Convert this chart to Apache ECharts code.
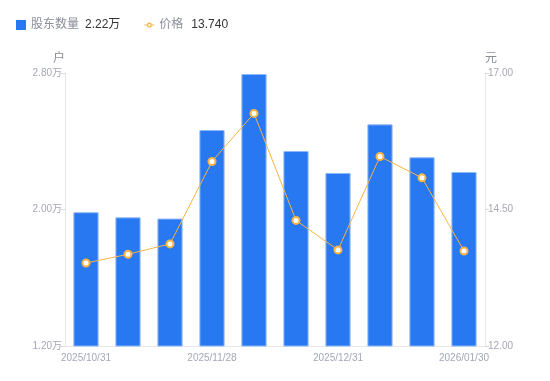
<!DOCTYPE html>
<html>
<head>
<meta charset="utf-8">
<script src="https://cdn.jsdelivr.net/npm/echarts@6/dist/echarts.min.js"></script>
<style>
html,body{margin:0;padding:0;background:#fff;}
#chart{width:550px;height:381px;}
</style>
</head>
<body>
<div id="chart"></div>
<script>
var categories = ['2025/10/31','2025/11/10','2025/11/20','2025/11/28','2025/12/10','2025/12/19','2025/12/31','2026/01/09','2026/01/20','2026/01/30'];
var holders = [19840, 19540, 19470, 24660, 27940, 23430, 22140, 24990, 23060, 22200];
var prices = [13.52, 13.68, 13.87, 15.38, 16.26, 14.30, 13.76, 15.47, 15.08, 13.74];
var leftTicks = [12000, 20000, 28000];
var rightTicks = [12, 14.5, 17];

var chart = echarts.init(document.getElementById('chart'), null, {renderer:'canvas'});
var axisGray = '#a4a7b5';
var lineColor = '#f9b444';
var font = 'Arial, "Liberation Sans", "Noto Sans CJK SC", sans-serif';
var lastH = (holders[holders.length-1]/10000).toFixed(2) + '万';
var lastP = prices[prices.length-1].toFixed(3);
var lineIcon = 'path://M0 4H5V6H0Z M15 4H20V6H15Z M5 5A5 5 0 1 1 15 5A5 5 0 1 1 5 5Z M7.6 5A2.4 2.4 0 1 0 12.4 5A2.4 2.4 0 1 0 7.6 5Z';

chart.setOption({
  animation:false,
  textStyle:{fontFamily:font},
  legend:{
    left:11, top:14, itemWidth:10, itemHeight:10, itemGap:24,
    data:[
      {name:'股东数量', icon:'rect', itemStyle:{color:'#2878f2', borderWidth:0}},
      {name:'价格', icon:lineIcon, itemStyle:{color:lineColor, borderWidth:0}}
    ],
    formatter:function(n){
      return n === '股东数量' ? '{n|股东数量}{v|' + lastH + '}' : '{n|价格}{v2|' + lastP + '}';
    },
    textStyle:{
      fontFamily:font,
      rich:{
        n:{fontSize:12, color:'#8a8d99', fontFamily:font},
        v:{fontSize:12, color:'#333333', padding:[0,0,0,6], fontFamily:font},
        v2:{fontSize:12, color:'#333333', padding:[0,0,0,8], fontFamily:font}
      }
    }
  },
  grid:{left:65, right:65, top:73, bottom:35},
  xAxis:{
    type:'category', data:categories, boundaryGap:true,
    axisLine:{lineStyle:{color:'#e6e6e6'}},
    axisTick:{show:false},
    axisLabel:{interval:2, color:axisGray, fontSize:10, margin:7, fontFamily:font}
  },
  yAxis:[{
    type:'value', min:leftTicks[0], max:leftTicks[2], interval:leftTicks[1]-leftTicks[0],
    name:'户', nameGap:8, nameTextStyle:{color:'#8a8d99', fontSize:12, align:'right', fontFamily:font},
    axisLine:{show:true, lineStyle:{color:'#e6e6e6'}},
    axisTick:{show:true, length:4, lineStyle:{color:'#d8d8d8'}},
    splitLine:{show:false},
    axisLabel:{color:axisGray, fontSize:10, margin:3, fontFamily:font,
      formatter:function(v){return (v/10000).toFixed(2)+'万';}}
  },{
    type:'value', min:rightTicks[0], max:rightTicks[2], interval:rightTicks[1]-rightTicks[0],
    name:'元', nameGap:8, nameTextStyle:{color:'#8a8d99', fontSize:12, align:'left', fontFamily:font},
    axisLine:{show:true, lineStyle:{color:'#e6e6e6'}},
    axisTick:{show:true, length:4, lineStyle:{color:'#d8d8d8'}},
    splitLine:{show:false},
    axisLabel:{color:axisGray, fontSize:10, margin:3, fontFamily:font,
      formatter:function(v){return v.toFixed(2);}}
  }],
  series:[{
    name:'股东数量', type:'bar', yAxisIndex:0, data:holders, barWidth:'60%',
    itemStyle:{color:'#2878f2', borderColor:'#8fb9f8', borderWidth:1}
  },{
    name:'价格', type:'line', yAxisIndex:1, data:prices,
    symbol:'circle', symbolSize:7,
    lineStyle:{color:lineColor, width:1},
    itemStyle:{color:'#ffffff', borderColor:lineColor, borderWidth:2}
  }]
});
</script>
</body>
</html>
